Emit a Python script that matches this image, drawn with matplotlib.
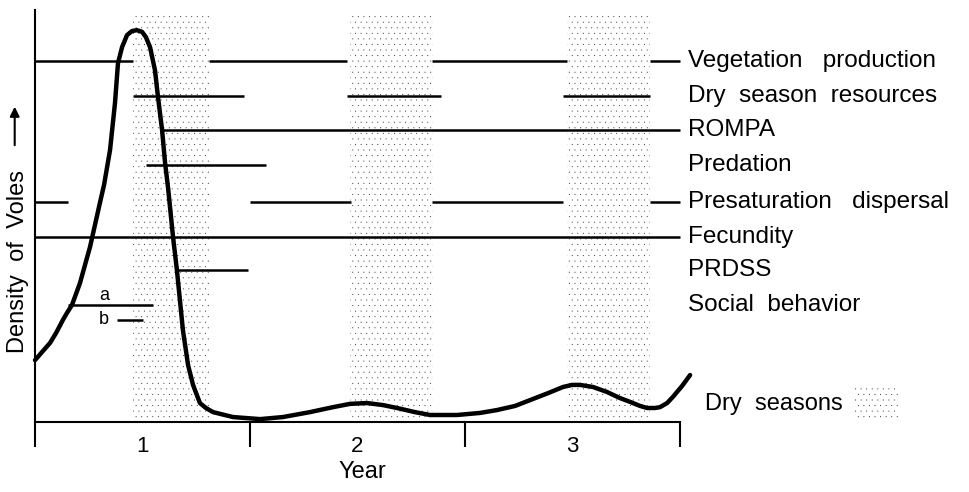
import matplotlib.pyplot as plt
from matplotlib.patches import Rectangle

plt.rcParams["font.family"] = ["Liberation Sans", "DejaVu Sans"]
plt.rcParams["hatch.linewidth"] = 0.0

# vole density curve (x in years, y in arbitrary density units 0-100)
curve_x = [0.000, 0.033, 0.070, 0.098, 0.130, 0.149, 0.172, 0.209, 0.256, 0.302,
           0.321, 0.349, 0.372, 0.386, 0.405, 0.428, 0.451, 0.474, 0.498, 0.516,
           0.535, 0.558, 0.572, 0.591, 0.605, 0.619, 0.642, 0.660, 0.688, 0.712,
           0.735, 0.767, 0.795, 0.828, 0.921, 1.047, 1.153, 1.279, 1.386, 1.465,
           1.544, 1.619, 1.684, 1.767, 1.837, 1.963, 2.070, 2.149, 2.233, 2.302,
           2.386, 2.456, 2.498, 2.535, 2.595, 2.660, 2.721, 2.767, 2.814, 2.847,
           2.884, 2.907, 2.940, 2.967, 3.009, 3.047]
curve_y = [15.0, 17.0, 19.2, 21.6, 24.8, 26.5, 28.4, 33.7, 42.5, 53.2,
           57.5, 66.0, 77.4, 87.1, 91.0, 93.9, 94.9, 95.1, 94.7, 93.4,
           91.0, 85.4, 78.9, 70.9, 62.9, 56.8, 44.9, 36.9, 22.3, 13.8,
           9.0, 4.6, 3.4, 2.4, 1.2, 0.7, 1.2, 2.4, 3.6, 4.4,
           4.6, 4.1, 3.4, 2.4, 1.7, 1.7, 2.2, 2.9, 3.9, 5.3,
           7.0, 8.5, 9.0, 9.0, 8.5, 7.3, 5.8, 4.9, 3.9, 3.4,
           3.4, 3.6, 4.6, 6.1, 8.7, 11.4]

dry_seasons = [(0.457, 0.807), (1.465, 1.851), (2.474, 2.860)]

factors = ["Vegetation   production", "Dry  season  resources", "ROMPA", "Predation",
           "Presaturation   dispersal", "Fecundity", "PRDSS", "Social  behavior"]
factor_y = [87.6, 79.1, 70.9, 62.4, 53.4, 44.9, 36.9, 28.4]
factor_segments = [
    [(0.0, 0.457), (0.807, 1.451), (1.847, 2.474), (2.860, 3.0)],
    [(0.457, 0.972), (1.451, 1.888), (2.456, 2.860)],
    [(0.581, 3.0)],
    [(0.516, 1.074)],
    [(0.0, 0.153), (1.0, 1.470), (1.847, 2.456), (2.860, 3.0)],
    [(0.0, 3.0)],
    [(0.660, 0.991)],
    [(0.153, 0.549)],
]
social_b_seg = (0.381, 0.502)
social_b_y = 24.8

year_ticks = [0, 1, 2, 3]
year_labels = ["1", "2", "3"]

fig = plt.figure(figsize=(9.69, 4.92), dpi=100)
ax = fig.add_axes([35 / 969, 1 - 422 / 492, 655 / 969, 412 / 492])
ax.set_xlim(0, 655 / 215)
ax.set_ylim(0, 100)

for x0, x1 in dry_seasons:
    ax.add_patch(Rectangle((x0, 0), x1 - x0, 98.8, facecolor="white",
                           edgecolor="#333333", hatch="...", lw=0, zorder=0))

for segs, y in zip(factor_segments, factor_y):
    for x0, x1 in segs:
        ax.plot([x0, x1], [y, y], color="black", lw=1.8, solid_capstyle="butt", zorder=2)
ax.plot(list(social_b_seg), [social_b_y] * 2, color="black", lw=1.8,
        solid_capstyle="butt", zorder=2)
ax.text(0.321, 30.8, "a", fontsize=13, ha="center", va="center")
ax.text(0.321, social_b_y, "b", fontsize=13, ha="center", va="center")

for name, y in zip(factors, factor_y):
    ax.text(3.037, y, name, fontsize=17.5, ha="left", va="center", clip_on=False)

ax.plot(curve_x, curve_y, color="black", lw=3.2, solid_joinstyle="round",
        solid_capstyle="round", clip_on=False, zorder=3)

# dry season key
ax.text(3.116, 4.3, "Dry  seasons", fontsize=17, ha="left", va="center", clip_on=False)
ax.add_patch(Rectangle((3.81, 1.0), 0.21, 8.0, facecolor="white", edgecolor="#333333",
                       hatch="...", lw=0, clip_on=False))

for s in ["top", "right"]:
    ax.spines[s].set_visible(False)
ax.spines["bottom"].set_bounds(0, 3)
ax.spines["left"].set_linewidth(1.5)
ax.spines["bottom"].set_linewidth(1.5)

ax.set_xticks(year_ticks)
ax.set_xticklabels([])
ax.tick_params(axis="x", which="major", length=18, width=1.5, direction="out")
ax.set_xticks([0.5, 1.5, 2.5], minor=True)
ax.set_xticklabels(year_labels, minor=True, fontsize=16)
ax.tick_params(axis="x", which="minor", length=0, pad=10)
ax.set_yticks([])

ax.set_xlabel("Year", fontsize=17, labelpad=3)
ax.set_ylabel("Density  of  Voles", fontsize=17, labelpad=4, y=0.39)
ax.annotate("", xy=(-0.031, 0.772), xytext=(-0.031, 0.665), xycoords="axes fraction",
            arrowprops=dict(arrowstyle="-|>", color="black", lw=1.5, mutation_scale=14))

fig.savefig("out.png", dpi=100)
